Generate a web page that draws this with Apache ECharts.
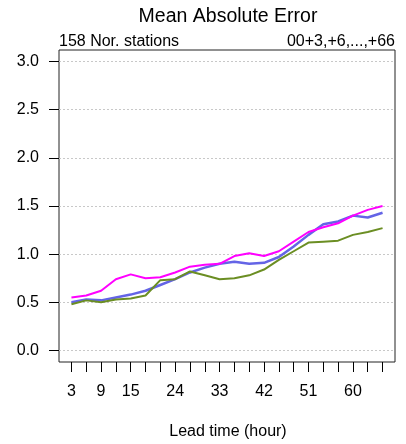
<!DOCTYPE html>
<html>
<head>
<meta charset="utf-8">
<script src="https://cdn.jsdelivr.net/npm/echarts@6/dist/echarts.min.js"></script>
<style>
  html, body { margin: 0; padding: 0; background: #fff; }
  #chart { width: 406px; height: 444px; }
</style>
</head>
<body>
<div id="chart"></div>
<script>
// Lead times in hours (00 UTC run, +3 ... +66)
const leadTimes = [3, 6, 9, 12, 15, 18, 21, 24, 27, 30, 33, 36, 39, 42, 45, 48, 51, 54, 57, 60, 63, 66];
const xTickLabels = [3, 9, 15, 24, 33, 42, 51, 60];
const yTicks = [0, 0.5, 1, 1.5, 2, 2.5, 3];

// Mean absolute error per model
const maeBlue    = [0.50, 0.53, 0.52, 0.55, 0.58, 0.62, 0.68, 0.74, 0.81, 0.86, 0.90, 0.92, 0.90, 0.91, 0.97, 1.08, 1.20, 1.31, 1.34, 1.40, 1.38, 1.43];
const maeMagenta = [0.55, 0.57, 0.62, 0.74, 0.79, 0.75, 0.76, 0.81, 0.87, 0.89, 0.90, 0.98, 1.01, 0.98, 1.03, 1.13, 1.23, 1.28, 1.32, 1.40, 1.46, 1.50];
const maeGreen   = [0.48, 0.52, 0.50, 0.53, 0.54, 0.57, 0.73, 0.74, 0.82, 0.78, 0.74, 0.75, 0.78, 0.84, 0.94, 1.03, 1.12, 1.13, 1.14, 1.20, 1.23, 1.27];

const FONT = 'Liberation Sans, Arial, Helvetica, sans-serif';
const pairs = arr => leadTimes.map((h, i) => [h, arr[i]]);

const chart = echarts.init(document.getElementById('chart'));

function line(data, color, width) {
  return {
    type: 'line',
    data: pairs(data),
    showSymbol: false,
    symbol: 'none',
    lineStyle: { color: color, width: width },
    itemStyle: { color: color },
    animation: false
  };
}

chart.setOption({
  animation: false,
  backgroundColor: '#fff',
  grid: {
    left: 59, right: 11, top: 50, bottom: 82,
    show: true, borderColor: '#222', borderWidth: 1,
    backgroundColor: 'transparent'
  },
  graphic: [
    { type: 'text', x: 228, y: 7, z: 10,
      style: { text: 'Mean Absolute Error', font: '19.5px ' + FONT, fill: '#000', textAlign: 'center' } },
    { type: 'text', x: 59, y: 34, z: 10,
      style: { text: '158 Nor. stations', font: '16px ' + FONT, fill: '#000', textAlign: 'left' } },
    { type: 'text', x: 395, y: 34, z: 10,
      style: { text: '00+3,+6,...,+66', font: '16px ' + FONT, fill: '#000', textAlign: 'right' } },
    { type: 'text', x: 228, y: 424, z: 10,
      style: { text: 'Lead time (hour)', font: '16px ' + FONT, fill: '#000', textAlign: 'center' } }
  ],
  xAxis: {
    type: 'value',
    position: 'bottom',
    min: 0.48, max: 68.52,
    axisLine: { show: false, onZero: false },
    axisTick: { show: true, inside: false, length: 10, customValues: leadTimes,
                lineStyle: { color: '#000', width: 1 } },
    axisLabel: { customValues: xTickLabels, margin: 22, color: '#000',
                 fontSize: 16, fontFamily: FONT },
    splitLine: { show: false }
  },
  yAxis: {
    type: 'value',
    position: 'left',
    min: -0.12, max: 3.12,
    axisLine: { show: false, onZero: false },
    axisTick: { show: true, length: 10, customValues: yTicks,
                lineStyle: { color: '#000', width: 1 } },
    axisLabel: { customValues: yTicks, margin: 20, color: '#000',
                 fontSize: 16, fontFamily: FONT,
                 formatter: v => v.toFixed(1) },
    splitLine: { show: true, lineStyle: { color: '#c8c8c8', type: [2, 2], width: 1 } }
  },
  series: [
    line(maeBlue, '#6464e6', 2.5),
    line(maeMagenta, '#ff00ff', 2),
    line(maeGreen, '#6b8e23', 2)
  ]
});
</script>
</body>
</html>
